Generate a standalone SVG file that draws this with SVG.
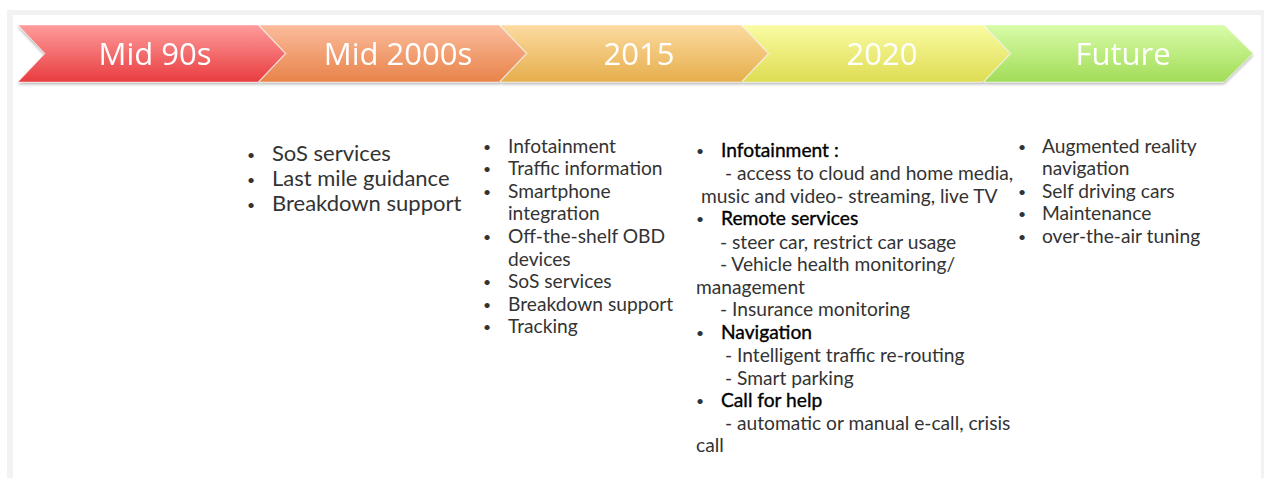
<svg xmlns="http://www.w3.org/2000/svg" width="1264" height="478" viewBox="0 0 1264 478">
<defs>
<linearGradient id="gRed" x1="0" y1="0" x2="0" y2="1"><stop offset="0" stop-color="#ff9c9c"/><stop offset="1" stop-color="#e83c3f"/></linearGradient>
<linearGradient id="gOrange" x1="0" y1="0" x2="0" y2="1"><stop offset="0" stop-color="#fbbc9c"/><stop offset="1" stop-color="#e8834a"/></linearGradient>
<linearGradient id="gAmber" x1="0" y1="0" x2="0" y2="1"><stop offset="0" stop-color="#fcdba0"/><stop offset="1" stop-color="#e6ae4c"/></linearGradient>
<linearGradient id="gYellow" x1="0" y1="0" x2="0" y2="1"><stop offset="0" stop-color="#fafca4"/><stop offset="1" stop-color="#dedc52"/></linearGradient>
<linearGradient id="gGreen" x1="0" y1="0" x2="0" y2="1"><stop offset="0" stop-color="#d8fca8"/><stop offset="1" stop-color="#a2dc58"/></linearGradient>
<filter id="sh" x="-5%" y="-20%" width="110%" height="150%"><feGaussianBlur in="SourceAlpha" stdDeviation="1.5"/><feOffset dy="2" result="b"/><feComponentTransfer><feFuncA type="linear" slope="0.3"/></feComponentTransfer><feMerge><feMergeNode/><feMergeNode in="SourceGraphic"/></feMerge></filter>
<style>
.seg{stroke:#ffffff;stroke-opacity:0.45;stroke-width:1}
.lbl{font-family:"Open Sans","Noto Sans",sans-serif;font-size:31px;fill:#ffffff;text-anchor:middle}
.b1{font-family:Lato,"Noto Sans",sans-serif;font-size:22px;fill:#333333}
.b2{font-family:Lato,"Noto Sans",sans-serif;font-size:19.2px;fill:#333333}
.h{fill:#000000;stroke:#000000;stroke-width:0.35}
.dot{font-size:14px}
</style>
</defs>
<rect x="7" y="10" width="1257" height="468" fill="#f2f2f2"/>
<rect x="13" y="15" width="1248" height="463" fill="#ffffff"/>

<g id="timeline" filter="url(#sh)">
<g id="mid90s"><polygon class="seg" fill="url(#gRed)" points="18,25 258,25 285,53.5 258,82 18,82 45,53.5"/><text class="lbl" x="155" y="65">Mid 90s</text></g>
<g id="mid2000s"><polygon class="seg" fill="url(#gOrange)" points="259,25 499,25 526,53.5 499,82 259,82 286,53.5"/><text class="lbl" x="398" y="65">Mid 2000s</text></g>
<g id="y2015"><polygon class="seg" fill="url(#gAmber)" points="500,25 741,25 768,53.5 741,82 500,82 527,53.5"/><text class="lbl" x="639" y="65">2015</text></g>
<g id="y2020"><polygon class="seg" fill="url(#gYellow)" points="742,25 983,25 1010,53.5 983,82 742,82 769,53.5"/><text class="lbl" x="882" y="65">2020</text></g>
<g id="future"><polygon class="seg" fill="url(#gGreen)" points="984,25 1224,25 1253,53.5 1224,82 984,82 1011,53.5"/><text class="lbl" x="1123" y="65">Future</text></g>
</g>

<g id="col-mid2000s" class="b1">
<text class="dot" x="247" y="160">•</text><text x="272" y="161">SoS services</text>
<text class="dot" x="247" y="185">•</text><text x="272" y="186">Last mile guidance</text>
<text class="dot" x="247" y="210">•</text><text x="272" y="211">Breakdown support</text>
</g>

<g id="col-2015" class="b2">
<text class="dot" x="483" y="152">•</text><text x="508" y="153">Infotainment</text>
<text class="dot" x="483" y="174">•</text><text x="508" y="175">Traffic information</text>
<text class="dot" x="483" y="197">•</text><text x="508" y="198">Smartphone</text>
<text x="508" y="220">integration</text>
<text class="dot" x="483" y="242">•</text><text x="508" y="243">Off-the-shelf OBD</text>
<text x="508" y="266">devices</text>
<text class="dot" x="483" y="287">•</text><text x="508" y="288">SoS services</text>
<text class="dot" x="483" y="310">•</text><text x="508" y="311">Breakdown support</text>
<text class="dot" x="483" y="332">•</text><text x="508" y="333">Tracking</text>
</g>

<g id="col-2020" class="b2">
<text class="dot" x="696" y="156">•</text><text class="h" x="721" y="157">Infotainment :</text>
<text x="725" y="180">- access to cloud and home media,</text>
<text x="701" y="203">music and video- streaming, live TV</text>
<text class="dot" x="696" y="224">•</text><text class="h" x="721" y="225">Remote services</text>
<text x="720" y="249">- steer car, restrict car usage</text>
<text x="720" y="271">- Vehicle health monitoring/</text>
<text x="696" y="294">management</text>
<text x="720" y="316">- Insurance monitoring</text>
<text class="dot" x="696" y="338">•</text><text class="h" x="721" y="339">Navigation</text>
<text x="725" y="362">- Intelligent traffic re-routing</text>
<text x="725" y="385">- Smart parking</text>
<text class="dot" x="696" y="406">•</text><text class="h" x="721" y="407">Call for help</text>
<text x="725" y="430">- automatic or manual e-call, crisis</text>
<text x="696" y="452">call</text>
</g>

<g id="col-future" class="b2">
<text class="dot" x="1018" y="152">•</text><text x="1042" y="153">Augmented reality</text>
<text x="1042" y="175">navigation</text>
<text class="dot" x="1018" y="197">•</text><text x="1042" y="198">Self driving cars</text>
<text class="dot" x="1018" y="219">•</text><text x="1042" y="220">Maintenance</text>
<text class="dot" x="1018" y="242">•</text><text x="1042" y="243">over-the-air tuning</text>
</g>
</svg>
